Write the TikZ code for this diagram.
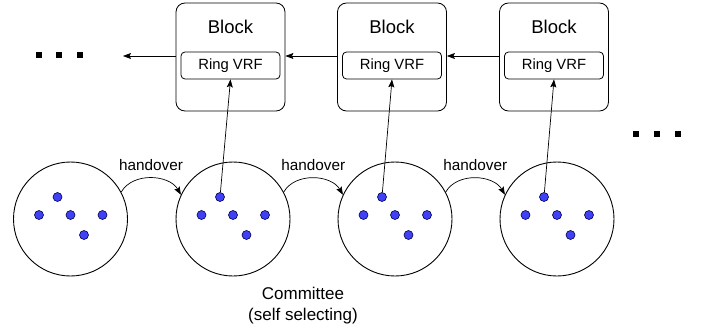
\documentclass[tikz,border=0pt]{standalone}
\usepackage{fontspec}
\setmainfont{Liberation Sans}
\usetikzlibrary{arrows.meta}
\definecolor{dotblue}{RGB}{64,64,245}

\begin{document}
\begin{tikzpicture}[x=1pt, y=-1pt,
    >={Stealth[length=8pt, width=6pt, inset=1.5pt]},
    block/.style={draw, rounded corners=9pt, minimum width=109pt, minimum height=108pt, line width=0.8pt},
    ring/.style={draw, rounded corners=4pt, minimum width=99pt, minimum height=27pt, line width=0.8pt, font=\fontsize{14.8}{17}\selectfont},
    committee/.style={draw, circle, minimum size=114pt, line width=0.9pt},
    member/.style={draw=black!70!blue, fill=dotblue, circle, minimum size=9pt, inner sep=0pt, line width=0.6pt},
    link/.style={->, line width=0.7pt},
    sq/.style={fill=black, minimum size=6pt, inner sep=0pt}]
    \useasboundingbox (0,0) rectangle (710,329);
    \node[block] (b1) at (230.5,57) {};
    \node[block] (b2) at (392,57) {};
    \node[block] (b3) at (554,57) {};
    \node[font=\fontsize{18.5}{21}\selectfont] at (230.5,27) {Block};
    \node[font=\fontsize{18.5}{21}\selectfont] at (392,27) {Block};
    \node[font=\fontsize{18.5}{21}\selectfont] at (554,27) {Block};
    \node[ring] (r1) at (230.5,65.5) {Ring VRF};
    \node[ring] (r2) at (392,65.5) {Ring VRF};
    \node[ring] (r3) at (554,65.5) {Ring VRF};
    \coordinate (chainend) at (123,56);
    \draw[link] (b1.west |- chainend) -- (chainend);
    \draw[link] (b2.west |- chainend) -- (b1.east |- chainend);
    \draw[link] (b3.west |- chainend) -- (b2.east |- chainend);
    \node[sq] (l1) at (38.5,55) {};
    \node[sq] (l2) at (59,55) {};
    \node[sq] (l3) at (80,55) {};
    \node[sq] (m1) at (636,133.5) {};
    \node[sq] (m2) at (657,133.5) {};
    \node[sq] (m3) at (678,133.5) {};
    \foreach \i/\cx in {1/70.5, 2/233, 3/395, 4/557} {
      \node[committee] (c\i) at (\cx,219) {};
      \foreach \j/\dx/\dy in {1/-13/-22, 2/-31.5/-4, 3/0/-4, 4/32/-4, 5/13.5/16}
        \node[member] (d\i-\j) at (\cx+\dx,219+\dy) {};
    }
    \draw[link] (d2-1) -- (r1.south);
    \draw[link] (d3-1) -- (r2.south);
    \draw[link] (d4-1) -- (r3.south);
    \foreach \a/\b in {1/2, 2/3, 3/4}
      \draw[link] (c\a.28) to[out=60, in=120]
        node[above=4pt, font=\fontsize{15.3}{18}\selectfont] {handover} (c\b.155);
    \node[align=center, font=\fontsize{17}{21}\selectfont] (committee) at (303,306) {Committee\\(self selecting)};
\end{tikzpicture}
\end{document}
